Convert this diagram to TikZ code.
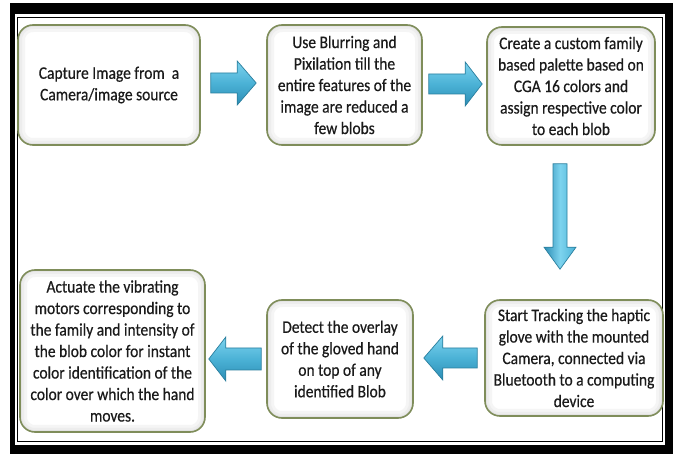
\documentclass[tikz,border=0pt]{standalone}
\usepackage{fontspec}
\setmainfont{Carlito}[FakeStretch=0.88, FakeBold=0.5]
\usetikzlibrary{calc}

\definecolor{boxedge}{HTML}{7F8D5A}
\definecolor{boxtext}{HTML}{1A1A1A}
\definecolor{arrowlight}{HTML}{7DD3EE}
\definecolor{arrowmid}{HTML}{4BB2D6}
\definecolor{arrowdark}{HTML}{2C8DB5}
\definecolor{arrowedge}{HTML}{2A7F9E}

\tikzset{
  stepbox/.style={
    draw=boxedge, line width=1.6pt, rounded corners=15pt, fill=white,
    inner sep=0pt, align=center, text=boxtext,
    font=\fontsize{17.6}{21.5}\selectfont,
    path picture={
      \draw[rounded corners=15pt, line width=14pt, black!4]
        (path picture bounding box.south west) rectangle (path picture bounding box.north east);
      \draw[rounded corners=15pt, line width=8pt, black!7]
        (path picture bounding box.south west) rectangle (path picture bounding box.north east);
      \draw[rounded corners=15pt, line width=3.5pt, black!11]
        (path picture bounding box.south west) rectangle (path picture bounding box.north east);
    }
  },
  hflow/.style={draw=arrowedge, line width=0.7pt, top color=arrowlight, bottom color=arrowdark, middle color=arrowmid},
  vflow/.style={draw=arrowedge, line width=0.7pt, left color=arrowdark, right color=arrowmid, middle color=arrowlight},
}

% block arrow: #1 style, #2 start, #3 tip, #4 half shaft, #5 half head, #6 head length
\newcommand\flowarrow[6]{%
  \coordinate (fa-h) at ($(#3)!#6!(#2)$);
  \path[#1] ($(#2)!#4!90:(#3)$) -- ($(fa-h)!#4!90:(#3)$) -- ($(fa-h)!#5!90:(#3)$)
    -- (#3) -- ($(fa-h)!#5!-90:(#3)$) -- ($(fa-h)!#4!-90:(#3)$)
    -- ($(#2)!#4!-90:(#3)$) -- cycle;
}

\begin{document}
\begin{tikzpicture}[x=1pt, y=-1pt]
  % canvas and double frame
  \fill[white] (0,0) rectangle (673,454);
  \useasboundingbox (0,0) rectangle (673,454);
  \fill[black] (10,3) rectangle (673,454);
  \fill[white] (15,14) rectangle (665,445);
  \draw[black, line width=1.6pt] (17.5,17.5) rectangle (662.5,441.5);

  % process steps
  \node[stepbox, minimum width=182pt, minimum height=120pt] (b1) at (109,85)
    {Capture Image from\ \ a\\ Camera/image source};
  \node[stepbox, minimum width=155pt, minimum height=120pt] (b2) at (344.5,85)
    {Use Blurring and\\ Pixilation till the\\ entire features of the\\ image are reduced a\\ few blobs};
  \node[stepbox, minimum width=168pt, minimum height=118pt] (b3) at (571,86)
    {Create a custom family\\ based palette based on\\ CGA 16 colors and\\ assign respective color\\ to each blob};
  \node[stepbox, minimum width=178pt, minimum height=116pt] (b4) at (574,358)
    {Start Tracking the haptic\\ glove with the mounted\\ Camera, connected via\\ Bluetooth to a computing\\ device};
  \node[stepbox, minimum width=146pt, minimum height=118pt] (b5) at (340,359)
    {Detect the overlay\\ of the gloved hand\\ on top of any\\ identified Blob};
  \node[stepbox, minimum width=185pt, minimum height=162pt] (b6) at (112.5,351)
    {Actuate the vibrating\\ motors corresponding to\\ the family and intensity of\\ the blob color for instant\\ color identification of the\\ color over which the hand\\ moves.};

  % arrow ends taken from the steps they join
  \coordinate (a1s) at ($(b1.east)+(10,-2)$);
  \coordinate (a1e) at ($(b2.west)+(-10,-2)$);
  \coordinate (a2s) at ($(b2.east)+(6,-1)$);
  \coordinate (a2e) at ($(b3.west)+(-4,-2)$);
  \coordinate (a3s) at ($(b3.south)+(-11,18)$);
  \coordinate (a3e) at ($(b4.north)+(-14,-30)$);
  \coordinate (a4s) at ($(b4.west)+(-7,0)$);
  \coordinate (a4e) at ($(b5.east)+(10,-1)$);
  \coordinate (a5s) at ($(b5.west)+(-5,0)$);
  \coordinate (a5e) at ($(b6.east)+(3,8)$);

  % block arrows
  \flowarrow{hflow}{a1s}{a1e}{10pt}{22pt}{19pt}
  \flowarrow{hflow}{a2s}{a2e}{10pt}{22pt}{17pt}
  \flowarrow{vflow}{a3s}{a3e}{7pt}{16pt}{22pt}
  \flowarrow{hflow}{a4s}{a4e}{10pt}{22pt}{19pt}
  \flowarrow{hflow}{a5s}{a5e}{11pt}{22pt}{17pt}
\end{tikzpicture}
\end{document}
